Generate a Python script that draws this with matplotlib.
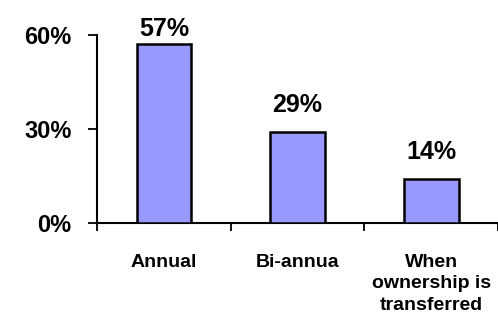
import matplotlib.pyplot as plt
import numpy as np

plt.rcParams['font.family'] = ['Liberation Sans', 'DejaVu Sans']

# data
categories = ['Annual', 'Bi-annua', 'When\nownership is\ntransferred']
shares = [57, 29, 14]
y_ticks = [0, 30, 60]

fig = plt.figure(figsize=(4.98, 3.26), dpi=100)
ax = fig.add_axes([0.195, 0.316, 0.805, 0.577])

x = np.arange(len(categories))
ax.bar(x, shares, width=0.41, color='#9999ff', edgecolor='black', linewidth=1.8, zorder=3)

# value labels above bars, kept inside the plot top
for xi, v in zip(x, shares):
    ax.text(xi, min(v + 6.5, 59.8), f'{v}%', ha='center', va='baseline',
            fontsize=18, fontweight='bold', color='black', clip_on=False)

ax.set_xlim(-0.5, len(categories) - 0.5)
ax.set_ylim(0, 60)

ax.set_yticks(y_ticks)
ax.set_yticklabels([f'{t}%' for t in y_ticks], fontsize=17, fontweight='bold')
ax.tick_params(axis='y', direction='out', length=6.5, width=1.3, pad=12)

ax.set_xticks(x)
ax.set_xticklabels(categories, fontsize=14, fontweight='bold',
                   linespacing=1.38, va='top')
ax.tick_params(axis='x', which='major', length=0, pad=22)
ax.set_xticks(np.arange(-0.5, len(categories), 1.0), minor=True)
ax.tick_params(axis='x', which='minor', direction='out', length=5.5, width=1.3)

for side in ['top', 'right']:
    ax.spines[side].set_visible(False)
ax.spines['left'].set_linewidth(1.5)
ax.spines['bottom'].set_linewidth(1.5)

fig.savefig('out.png', dpi=100)
